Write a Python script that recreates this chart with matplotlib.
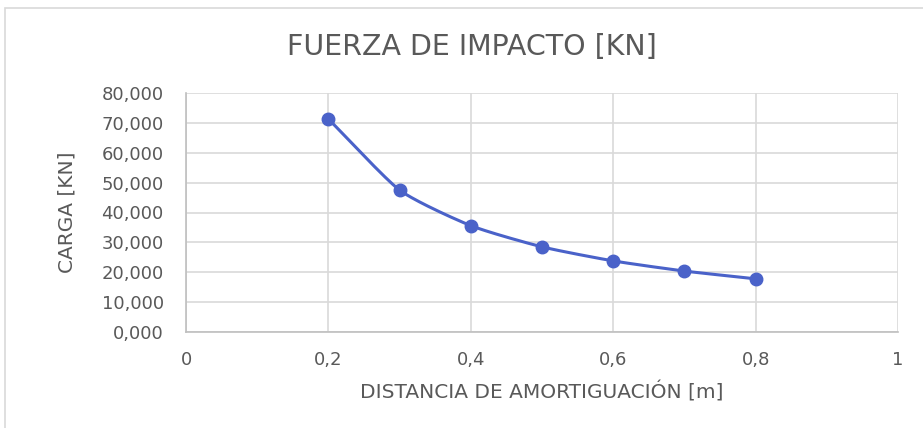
import matplotlib.pyplot as plt
import numpy as np
from matplotlib.patches import Rectangle
from matplotlib.ticker import FuncFormatter

distancia = [0.2, 0.3, 0.4, 0.5, 0.6, 0.7, 0.8]
carga = [71.3, 47.5, 35.6, 28.5, 23.8, 20.4, 17.8]
x_ticks = [0, 0.2, 0.4, 0.6, 0.8, 1]
y_ticks = [0, 10, 20, 30, 40, 50, 60, 70, 80]

LINE_COLOR = "#4a62c9"
GRID_COLOR = "#d9d9d9"
TEXT_COLOR = "#595959"

plt.rcParams["font.family"] = ["DejaVu Sans"]


def smooth_curve(xs, ys, steps=30, tension=0.6):
    # cubic Hermite through the points with softened tangents (Excel-like smoothing)
    px = np.array(xs, dtype=float)
    py = np.array(ys, dtype=float)
    n = len(px)
    mx = np.zeros(n)
    my = np.zeros(n)
    for i in range(n):
        a = max(i - 1, 0)
        b = min(i + 1, n - 1)
        mx[i] = (px[b] - px[a]) / (b - a) * tension
        my[i] = (py[b] - py[a]) / (b - a) * tension
    t = np.linspace(0, 1, steps)
    h00 = 2 * t ** 3 - 3 * t ** 2 + 1
    h10 = t ** 3 - 2 * t ** 2 + t
    h01 = -2 * t ** 3 + 3 * t ** 2
    h11 = t ** 3 - t ** 2
    out_x, out_y = [], []
    for i in range(n - 1):
        out_x.extend(h00 * px[i] + h10 * mx[i] + h01 * px[i + 1] + h11 * mx[i + 1])
        out_y.extend(h00 * py[i] + h10 * my[i] + h01 * py[i + 1] + h11 * my[i + 1])
    return out_x, out_y


fig = plt.figure(figsize=(9.23, 4.28), dpi=100)
fig.patches.append(Rectangle((5 / 923, -0.1), 1.1, 1 - 8 / 428 + 0.1,
                             transform=fig.transFigure, fill=False,
                             edgecolor=GRID_COLOR, linewidth=1.2))

ax = fig.add_axes([186 / 923, 1 - 332 / 428, (898 - 186) / 923, (332 - 93) / 428])

sx, sy = smooth_curve(distancia, carga)
ax.plot(sx, sy, color=LINE_COLOR, linewidth=2.2, zorder=3)
ax.plot(distancia, carga, "o", color=LINE_COLOR, markersize=9, zorder=4)

ax.set_xlim(0, 1)
ax.set_ylim(0, 80)
ax.set_xticks(x_ticks)
ax.set_yticks(y_ticks)
ax.xaxis.set_major_formatter(FuncFormatter(lambda v, p: f"{v:g}".replace(".", ",")))
ax.yaxis.set_major_formatter(FuncFormatter(lambda v, p: f"{v:.3f}".replace(".", ",")))
ax.tick_params(axis="y", length=0, colors=TEXT_COLOR, labelsize=13, pad=16)
ax.tick_params(axis="x", length=0, colors=TEXT_COLOR, labelsize=13, pad=14)
ax.grid(True, color=GRID_COLOR, linewidth=1.2)
ax.set_axisbelow(True)
for side in ["top", "right"]:
    ax.spines[side].set_visible(False)
for side in ["left", "bottom"]:
    ax.spines[side].set_color("#bfbfbf")
    ax.spines[side].set_linewidth(1.2)

ax.set_xlabel("DISTANCIA DE AMORTIGUACIÓN [m]", color=TEXT_COLOR, fontsize=14.5, labelpad=9)
ax.set_ylabel("CARGA [KN]", color=TEXT_COLOR, fontsize=14.5, labelpad=18)
fig.text(472 / 923, 1 - 47 / 428, "FUERZA DE IMPACTO [KN]", ha="center", va="center",
         color=TEXT_COLOR, fontsize=20.5)

fig.savefig("out.png", dpi=100)
